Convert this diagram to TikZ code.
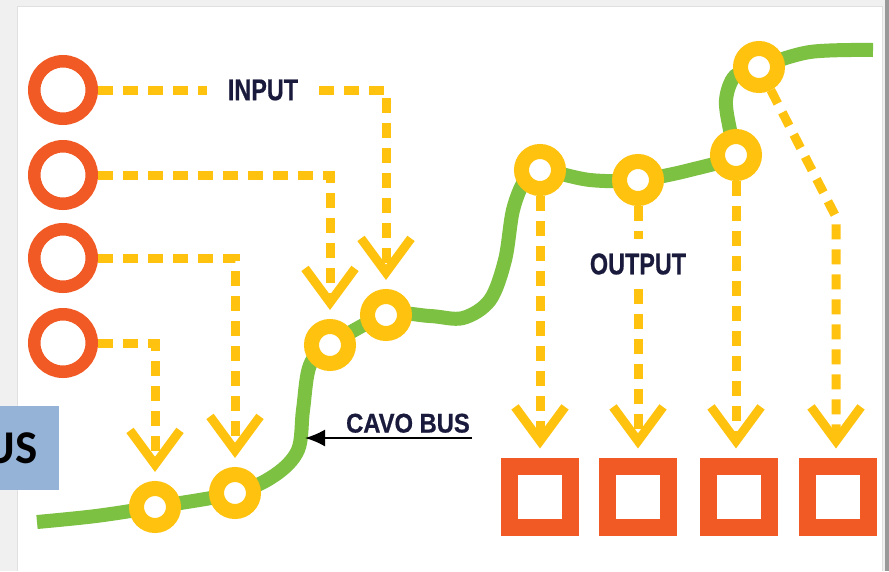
\documentclass[tikz,border=0pt]{standalone}
\usepackage{fontspec}
\usetikzlibrary{arrows.meta}
\newfontfamily\lblfont{Liberation Sans}[FakeStretch=0.78, FakeBold=0.6]
\newfontfamily\cablefont{Liberation Sans}[FakeStretch=0.88, FakeBold=0.6]
\newfontfamily\tagfont{Carlito}

\definecolor{busgreen}{HTML}{7DC142}
\definecolor{ringorange}{HTML}{F15A24}
\definecolor{tapyellow}{HTML}{FFC20E}
\definecolor{labelnavy}{HTML}{1A1A3C}
\definecolor{tagblue}{HTML}{95B3D7}

\begin{document}
\begin{tikzpicture}[x=1pt, y=-1pt,
    inring/.style={circle, draw=ringorange, line width=12.5pt, fill=white, minimum size=57.5pt, inner sep=0pt},
    tap/.style={circle, draw=tapyellow, line width=15pt, fill=white, minimum size=37pt, inner sep=0pt},
    outbox/.style={rectangle, draw=ringorange, line width=17pt, fill=white, minimum size=61pt, inner sep=0pt},
    sig/.style={draw=tapyellow, line width=9pt, dash pattern=on 15pt off 10pt},
    sigarrow/.style={sig, -{Straight Barb[length=34pt, width=50pt]}, shorten >=9pt},
    lbl/.style={text=labelnavy, font=\lblfont\bfseries\fontsize{30}{30}\selectfont, inner ysep=14pt, inner xsep=21pt}
  ]
    \useasboundingbox (0,0) rectangle (889,571);
    \clip (0,0) rectangle (889,571);

    % Page frame
    \fill[black!6] (0,0) rectangle (889,571);
    \fill[white] (17,6) rectangle (883,571);
    \draw[black!12, line width=0.8pt] (17.4,571) -- (17.4,6.4) -- (882.6,6.4) -- (882.6,571);
    \fill[black!40] (885,0) rectangle (889,571);

    % Cut-off tag on the left
    \fill[tagblue] (0,406) rectangle (59,490);
    \node[anchor=base east, inner sep=0pt, font=\tagfont\bfseries\fontsize{47}{47}\selectfont] (bustag) at (38,463) {US};

    % The bus cable
    \draw[busgreen, line width=14pt] plot[smooth, tension=0.55] coordinates {
        (37,522) (96,516) (155,507) (235,493) (275,475) (298,450) (303,410)
        (310,365) (330,345) (386,315) (430,316) (463,318) (490,300) (505,260)
        (513,210) (525,180) (540,170) (590,180) (638,180) (690,170) (736,155)
        (730,130) (726,100) (735,76) (759,67) (810,52) (873,50)};

    % Input devices
    \foreach \i/\y in {1/90, 2/175, 3/258, 4/343}
        \node[inring] (in\i) at (63,\y) {};

    % Taps on the bus
    \node[tap] (t1) at (155,507) {};
    \node[tap] (t2) at (235,493) {};
    \node[tap] (t3) at (330,345) {};
    \node[tap] (t4) at (386,315) {};
    \node[tap] (t5) at (540,170) {};
    \node[tap] (t6) at (638,180) {};
    \node[tap] (t7) at (736,155) {};
    \node[tap] (t8) at (759,67) {};

    % Output devices
    \node[outbox] (b1) at (540,496.5) {};
    \node[outbox] (b2) at (638,496.5) {};
    \node[outbox] (b3) at (739,496.5) {};
    \node[outbox] (b4) at (837.5,496.5) {};

    % Labels
    \node[lbl] (inlbl) at (263,90) {INPUT};
    \node[lbl, inner xsep=4pt] (outlbl) at (638,264) {OUTPUT};
    \node[anchor=south east, inner xsep=2pt, inner ysep=5pt, text=labelnavy,
          font=\cablefont\bfseries\fontsize{27}{27}\selectfont] (cavo) at (472,438) {CAVO BUS};
    \coordinate (busmark) at (305,438);

    % Inputs onto the bus
    \draw[sig] (in1) -- (inlbl);
    \draw[sigarrow] (inlbl) -| (t4);
    \draw[sigarrow] (in2) -| (t3);
    \draw[sigarrow] (in3) -| (t2);
    \draw[sigarrow] (in4) -| (t1);

    % Bus out to the outputs
    \draw[sigarrow] (t5) -- (b1);
    \draw[sig] (t6) -- (outlbl);
    \draw[sigarrow] (outlbl) -- (b2);
    \draw[sigarrow] (t7) -- (t7 |- b3.north);
    \coordinate (bend) at (836,217);
    \draw[sigarrow] (t8) -- (bend) -- (bend |- b4.north);

    % Pointer to the cable
    \draw[black, line width=2pt, -{Latex[length=20pt, width=17pt]}] (cavo.south east) -- (busmark);
\end{tikzpicture}
\end{document}
